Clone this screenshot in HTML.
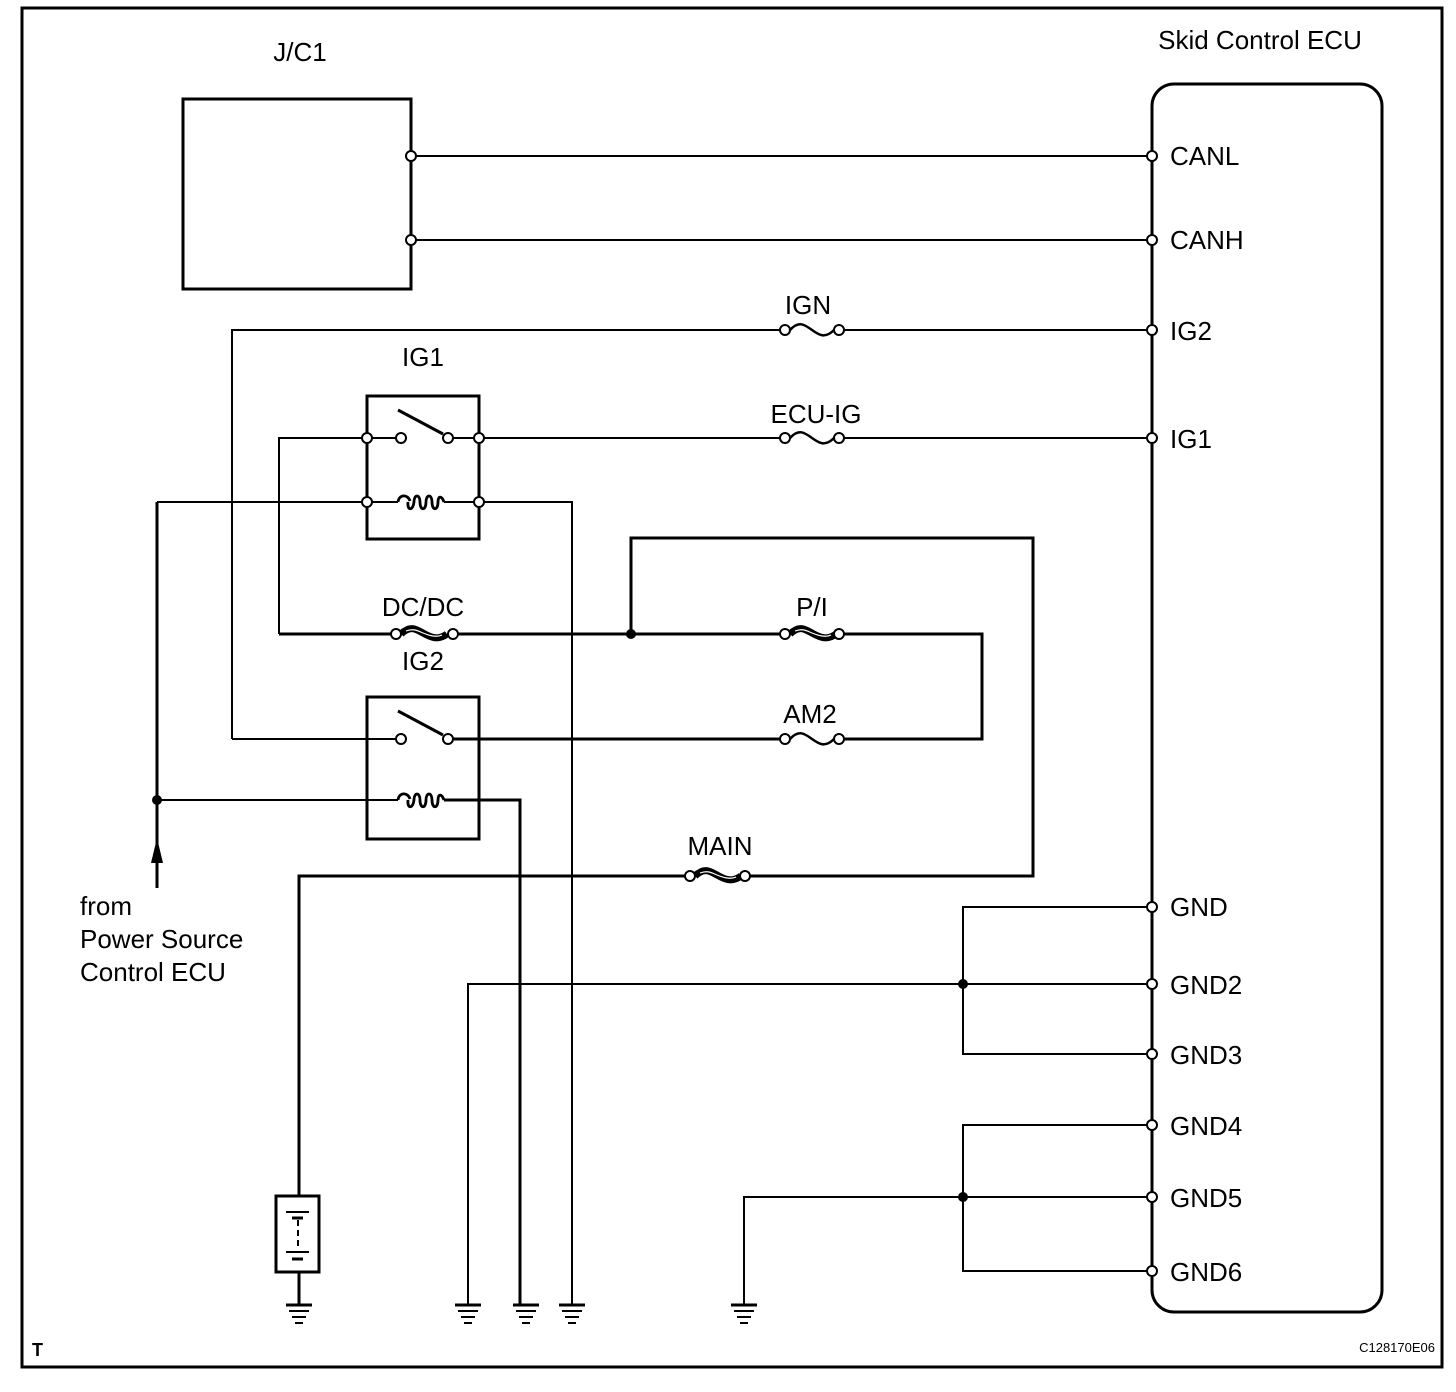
<!DOCTYPE html>
<html><head><meta charset="utf-8"><style>
html,body{margin:0;padding:0;background:#fff;}
svg{display:block;}
text{font-family:"Liberation Sans",Arial,sans-serif;font-size:26px;fill:#000;}
</style></head><body>
<svg width="1456" height="1392" viewBox="0 0 1456 1392" xmlns="http://www.w3.org/2000/svg">
<defs>
<g id="gnd"><line x1="-13" y1="0" x2="13" y2="0" stroke="#000" stroke-width="3"/><line x1="-10" y1="6" x2="10" y2="6" stroke="#000" stroke-width="2"/><line x1="-7" y1="12" x2="7" y2="12" stroke="#000" stroke-width="2"/><line x1="-4" y1="18" x2="4" y2="18" stroke="#000" stroke-width="2"/></g>
<g id="fuse"><path d="M5,0 C14,-10 20,-5 27,0 C34,5 40,9 49,0" fill="none" stroke="#000" stroke-width="2.5"/></g>
<g id="hfuse"><path d="M5,0 C14,-9 20,-5 27,-1 C34,3 42,7 51,0" fill="none" stroke="#000" stroke-width="7"/><path d="M10,-3 C18,-6 22,-3 27,-1 C32,1 40,4 46,1" fill="none" stroke="#fff" stroke-width="1.2"/></g>
<g id="coil"><path d="M-22,0 C-21,-8 -12,-8 -10,-1 M-12,0 C-13,9 -7,9 -6,0 C-6,-8 0,-8 0,0 C0,9 6,9 6,0 C6,-8 12,-8 12,0 C12,9 18,9 18,0 C18,-7 22,-6 24,0" fill="none" stroke="#000" stroke-width="2.8"/></g>
</defs>
<g fill="none" stroke="#000">
<rect x="22" y="8" width="1420" height="1359" stroke-width="3"/>
<rect x="183" y="99" width="228" height="190" stroke-width="3"/>
<rect x="1152" y="84" width="230" height="1228" rx="22" stroke-width="3"/>
<g stroke-width="2">
<line x1="411" y1="156" x2="1152" y2="156"/>
<line x1="411" y1="240" x2="1152" y2="240"/>
<polyline points="232,739 232,330 785,330"/><line x1="839" y1="330" x2="1152" y2="330"/>
<polyline points="279,634 279,438 367,438"/><line x1="367" y1="438" x2="401" y2="438"/>
<line x1="448" y1="438" x2="785" y2="438"/><line x1="839" y1="438" x2="1152" y2="438"/>
<line x1="157" y1="502" x2="398" y2="502"/>
<polyline points="444,502 572,502 572,1305"/>
<line x1="279" y1="634" x2="396" y2="634" stroke-width="3"/>
<line x1="453" y1="634" x2="785" y2="634" stroke-width="3"/>
<polyline points="839,634 982,634 982,739 839,739" stroke-width="3"/>
<polyline points="631,634 631,538 1033,538 1033,876 745,876" stroke-width="3"/>
<polyline points="690,876 299,876 299,1196" stroke-width="3"/>
<line x1="448" y1="739" x2="785" y2="739" stroke-width="3"/>
<line x1="232" y1="739" x2="401" y2="739"/>
<line x1="157" y1="800" x2="398" y2="800"/>
<polyline points="444,800 520,800 520,1305" stroke-width="3"/>
<line x1="157" y1="502" x2="157" y2="888" stroke-width="3"/>
<polyline points="1152,907 963,907 963,1054 1152,1054"/>
<polyline points="468,1305 468,984 1152,984"/>
<polyline points="1152,1125 963,1125 963,1271 1152,1271"/>
<polyline points="744,1305 744,1197 1152,1197"/>
<line x1="299" y1="1272" x2="299" y2="1305" stroke-width="3"/>
</g>
<rect x="367" y="396" width="112" height="143" stroke-width="3"/>
<rect x="367" y="697" width="112" height="142" stroke-width="3"/>
<line x1="398" y1="410" x2="443" y2="434" stroke-width="3"/>
<line x1="398" y1="711" x2="443" y2="735" stroke-width="3"/>
<rect x="276" y="1196" width="43" height="76" stroke-width="3"/>
<line x1="286" y1="1212" x2="309" y2="1212" stroke-width="2"/>
<line x1="292" y1="1218" x2="303" y2="1218" stroke-width="3"/>
<line x1="286" y1="1252" x2="309" y2="1252" stroke-width="2"/>
<line x1="292" y1="1259" x2="303" y2="1259" stroke-width="3"/>
<line x1="298" y1="1220" x2="298" y2="1250" stroke-width="2" stroke-dasharray="6,4"/>
</g>
<use href="#fuse" x="785" y="330"/>
<use href="#fuse" x="785" y="438"/>
<use href="#fuse" x="785" y="739"/>
<use href="#hfuse" x="396" y="634"/>
<use href="#hfuse" x="785" y="634"/>
<use href="#hfuse" x="690" y="876"/>
<use href="#coil" x="420" y="502"/>
<use href="#coil" x="420" y="800"/>
<use href="#gnd" x="299" y="1305"/>
<use href="#gnd" x="468" y="1305"/>
<use href="#gnd" x="526" y="1305"/>
<use href="#gnd" x="572" y="1305"/>
<use href="#gnd" x="744" y="1305"/>
<g fill="#fff" stroke="#000" stroke-width="2">
<circle cx="411" cy="156" r="5"/><circle cx="411" cy="240" r="5"/>
<circle cx="1152" cy="156" r="5"/><circle cx="1152" cy="240" r="5"/><circle cx="1152" cy="330" r="5"/><circle cx="1152" cy="438" r="5"/>
<circle cx="1152" cy="907" r="5"/><circle cx="1152" cy="984" r="5"/><circle cx="1152" cy="1054" r="5"/><circle cx="1152" cy="1125" r="5"/><circle cx="1152" cy="1197" r="5"/><circle cx="1152" cy="1271" r="5"/>
<circle cx="785" cy="330" r="5"/><circle cx="839" cy="330" r="5"/>
<circle cx="785" cy="438" r="5"/><circle cx="839" cy="438" r="5"/>
<circle cx="785" cy="739" r="5"/><circle cx="839" cy="739" r="5"/>
<circle cx="785" cy="634" r="5"/><circle cx="839" cy="634" r="5"/>
<circle cx="396" cy="634" r="5"/><circle cx="453" cy="634" r="5"/>
<circle cx="690" cy="876" r="5"/><circle cx="745" cy="876" r="5"/>
<circle cx="367" cy="438" r="5"/><circle cx="401" cy="438" r="5"/><circle cx="448" cy="438" r="5"/><circle cx="479" cy="438" r="5"/>
<circle cx="367" cy="502" r="5"/><circle cx="479" cy="502" r="5"/>
<circle cx="401" cy="739" r="5"/><circle cx="448" cy="739" r="5"/>
</g>
<g fill="#000">
<circle cx="631" cy="634" r="5"/><circle cx="157" cy="800" r="5"/>
<circle cx="963" cy="984" r="5"/><circle cx="963" cy="1197" r="5"/>
<polygon points="157,838 151,863 163,863"/>
</g>
<text x="300" y="61" text-anchor="middle">J/C1</text>
<text x="1260" y="49" text-anchor="middle">Skid Control ECU</text>
<g>
<text x="1170" y="165">CANL</text><text x="1170" y="249">CANH</text>
<text x="1170" y="340">IG2</text><text x="1170" y="448">IG1</text>
<text x="1170" y="916">GND</text><text x="1170" y="994">GND2</text>
<text x="1170" y="1064">GND3</text><text x="1170" y="1135">GND4</text>
<text x="1170" y="1207">GND5</text><text x="1170" y="1281">GND6</text>
</g>
<text x="808" y="314" text-anchor="middle">IGN</text>
<text x="423" y="366" text-anchor="middle">IG1</text>
<text x="816" y="423" text-anchor="middle">ECU-IG</text>
<text x="423" y="616" text-anchor="middle">DC/DC</text>
<text x="812" y="616" text-anchor="middle">P/I</text>
<text x="423" y="670" text-anchor="middle">IG2</text>
<text x="810" y="723" text-anchor="middle">AM2</text>
<text x="720" y="855" text-anchor="middle">MAIN</text>
<text x="80" y="915">from</text>
<text x="80" y="948">Power Source</text>
<text x="80" y="981">Control ECU</text>
<text x="32" y="1356" style="font-size:18px;font-weight:bold">T</text>
<text x="1435" y="1352" text-anchor="end" style="font-size:13px">C128170E06</text>
</svg>
</body></html>
